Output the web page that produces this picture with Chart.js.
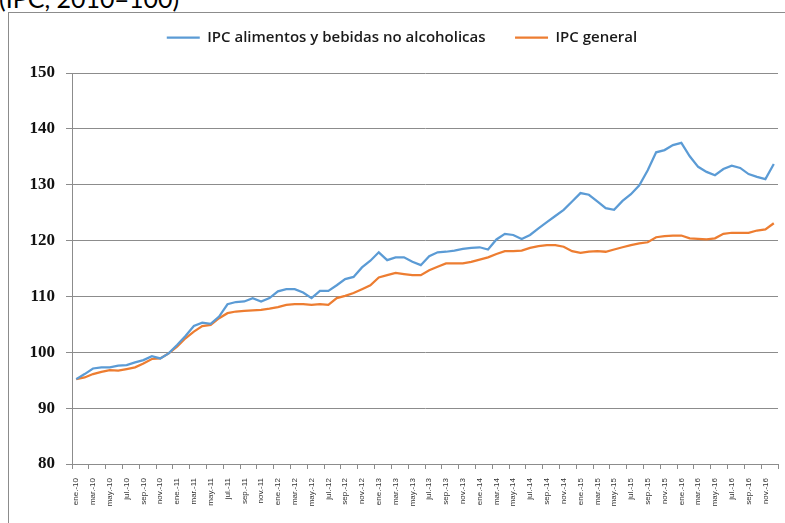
<!DOCTYPE html>
<html lang="es">
<head>
  <meta charset="UTF-8">
  <title>IPC alimentos y bebidas no alcoholicas vs IPC general</title>
  <script src="https://cdn.jsdelivr.net/npm/chart.js"></script>
  <style>
    body { margin: 0; background: #fff; overflow: hidden; }
    .wrap { position: relative; width: 785px; height: 523px; overflow: hidden; }
    .titulo { position: absolute; left: -1px; top: -17px; font: 25px/30px Lato, sans-serif; color: #000; white-space: nowrap; }
    .marco { position: absolute; left: 8px; top: 12px; width: 790px; height: 530px; border: 1px solid #8c8c8c; box-sizing: border-box; }
    #ipcChart { position: absolute; left: 0; top: 0; }
  </style>
</head>
<body>
<div class="wrap">
  <div class="titulo">(IPC, 2010=100)</div>
  <div class="marco"></div>
  <canvas id="ipcChart" width="785" height="523"></canvas>
</div>

<script>
  // meses y años del eje
  const meses = ['ene.', 'feb.', 'mar.', 'abr.', 'may.', 'jun.', 'jul.', 'ago.', 'sep.', 'oct.', 'nov.', 'dic.'];
  const anios = ['10', '11', '12', '13', '14', '15', '16'];
  const etiquetas = [];
  anios.forEach(a => meses.forEach(m => etiquetas.push(m + '-' + a)));

  const ipcAlimentos = [
    95.2, 96.1, 97.1, 97.3, 97.3, 97.6, 97.7, 98.2, 98.6, 99.3, 98.9, 99.8,
    101.3, 102.9, 104.7, 105.3, 105.1, 106.4, 108.6, 109.0, 109.1, 109.7, 109.1, 109.7,
    110.9, 111.3, 111.3, 110.7, 109.7, 111.0, 111.0, 112.0, 113.1, 113.5, 115.2, 116.4,
    117.9, 116.5, 117.0, 117.0, 116.2, 115.6, 117.2, 117.9, 118.0, 118.2, 118.5, 118.7,
    118.8, 118.4, 120.2, 121.2, 121.0, 120.3, 121.0, 122.2, 123.3, 124.4, 125.5, 127.0,
    128.5, 128.2, 127.0, 125.8, 125.5, 127.1, 128.3, 129.9, 132.6, 135.8, 136.2, 137.1,
    137.5, 135.1, 133.2, 132.3, 131.7, 132.8, 133.4, 133.0, 131.9, 131.4, 131.0, 133.7
  ];

  const ipcGeneral = [
    95.2, 95.5, 96.1, 96.5, 96.8, 96.7, 97.0, 97.3, 98.0, 98.8, 98.9, 99.8,
    101.0, 102.5, 103.7, 104.7, 104.9, 106.1, 107.0, 107.3, 107.4, 107.5, 107.6, 107.8,
    108.1, 108.5, 108.6, 108.6, 108.5, 108.6, 108.5, 109.7, 110.1, 110.6, 111.3, 112.0,
    113.4, 113.8, 114.2, 114.0, 113.8, 113.8, 114.7, 115.3, 115.9, 115.9, 115.9, 116.2,
    116.6, 117.0, 117.6, 118.1, 118.1, 118.2, 118.7, 119.0, 119.2, 119.2, 118.9, 118.1,
    117.8, 118.0, 118.1, 118.0, 118.4, 118.8, 119.2, 119.5, 119.7, 120.6, 120.8, 120.9,
    120.9, 120.4, 120.3, 120.2, 120.4, 121.2, 121.4, 121.4, 121.4, 121.8, 122.0, 123.1
  ];

  const ejeY = { min: 80, max: 150, paso: 10 };

  const gris = '#8c8c8c';

  // deja aire bajo la leyenda para que quede arriba, lejos del área del gráfico
  const leyendaAlta = {
    id: 'leyendaAlta',
    beforeLayout(chart) {
      const lg = chart.legend;
      if (lg && !lg._alta) {
        const fit = lg.fit;
        lg.fit = function () { fit.call(this); this.height += 18; };
        lg._alta = true;
      }
    }
  };

  new Chart(document.getElementById('ipcChart'), {
    type: 'line',
    data: {
      labels: etiquetas,
      datasets: [{
        label: 'IPC alimentos y bebidas no alcoholicas',
        data: ipcAlimentos,
        borderColor: '#5b9bd5',
        backgroundColor: '#5b9bd5',
        borderWidth: 2.25,
        pointRadius: 0,
        pointStyle: 'line',
        tension: 0
      }, {
        label: 'IPC general',
        data: ipcGeneral,
        borderColor: '#ed7d31',
        backgroundColor: '#ed7d31',
        borderWidth: 2.25,
        pointRadius: 0,
        pointStyle: 'line',
        tension: 0
      }]
    },
    plugins: [leyendaAlta],
    options: {
      responsive: false,
      animation: false,
      layout: { padding: { top: 0, left: 26, right: 7, bottom: 0 } },
      plugins: {
        tooltip: { enabled: false },
        legend: {
          position: 'top',
          labels: {
            usePointStyle: true,
            pointStyleWidth: 33,
            padding: 29.5,
            color: '#1a1a1a',
            font: { family: 'Open Sans', size: 15, weight: '600' }
          }
        }
      },
      scales: {
        x: {
          offset: true,
          grid: {
            offset: true,
            drawOnChartArea: false,
            drawTicks: true,
            tickLength: 5,
            color: ctx => (ctx.index === undefined || ctx.index % 2 === 0) ? gris : 'rgba(0,0,0,0)'
          },
          border: { color: gris },
          ticks: {
            autoSkip: false,
            minRotation: 90,
            maxRotation: 90,
            padding: 9,
            color: '#333',
            font: { family: 'Liberation Sans', size: 8 },
            callback: function (v, i) { return i % 2 ? '' : this.getLabelForValue(v); }
          },
          afterFit: s => { s.height = 59; s.paddingLeft = 0; s.paddingRight = 0; }
        },
        y: {
          min: ejeY.min,
          max: ejeY.max,
          grid: { color: gris, tickLength: 6 },
          border: { color: gris },
          ticks: {
            stepSize: ejeY.paso,
            padding: 11,
            color: '#111',
            font: { family: 'Liberation Serif', size: 17, weight: 'bold' }
          },
          afterFit: s => { s.width = 46; s.paddingTop = 73; }
        }
      }
    }
  });
</script>
</body>
</html>
